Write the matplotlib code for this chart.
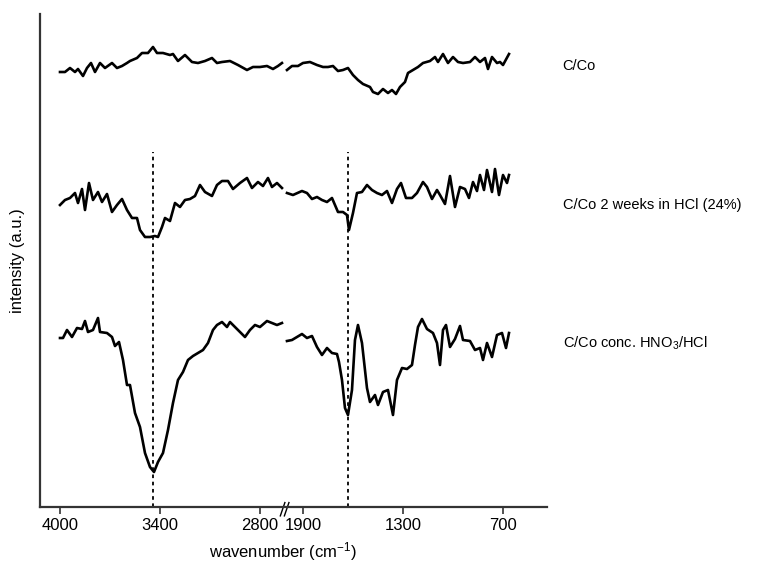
import numpy as np
import matplotlib
matplotlib.use('Agg')
import matplotlib.pyplot as plt

plt.rcParams['font.family'] = ['Liberation Sans', 'DejaVu Sans']
plt.rcParams['mathtext.default'] = 'regular'

# wavenumbers (cm-1) and intensities (a.u., already offset)
# C/Co
wn_a_hi = [4000, 3970, 3940, 3910, 3892, 3862, 3838, 3814, 3790, 3760, 3730, 3688, 3658, 3628,
           3598, 3580, 3538, 3508, 3472, 3442, 3418, 3382, 3340, 3322, 3292, 3250, 3208, 3172,
           3130, 3088, 3058, 3028, 2980, 2932, 2878, 2842, 2800, 2758, 2722, 2692, 2668]
int_a_hi = [435, 435, 439, 435, 438, 431, 439, 444, 435, 444, 439, 444, 439, 441,
            444, 446, 449, 454, 454, 460, 454, 454, 452, 453, 446, 452, 445, 444,
            446, 449, 444, 445, 446, 442, 437, 440, 440, 441, 438, 441, 444]
wn_a_lo = [1996, 1966, 1930, 1900, 1858, 1816, 1780, 1750, 1720, 1690, 1660, 1630, 1600, 1570,
           1540, 1498, 1480, 1450, 1420, 1390, 1366, 1342, 1318, 1288, 1270, 1240, 1210, 1180,
           1138, 1108, 1090, 1060, 1030, 1000, 970, 940, 898, 868, 838, 808, 790, 766, 736,
           718, 700, 664]
int_a_lo = [437, 441, 441, 444, 445, 442, 440, 440, 441, 436, 437, 439, 432, 427,
            423, 420, 415, 413, 418, 414, 417, 413, 420, 425, 434, 437, 440, 444,
            446, 450, 445, 453, 444, 450, 445, 444, 445, 450, 445, 449, 438, 450, 444,
            445, 442, 453]

# C/Co 2 weeks in HCl (24%)
wn_b_hi = [4000, 3970, 3940, 3910, 3892, 3868, 3850, 3826, 3802, 3772, 3748, 3718, 3688, 3658,
           3628, 3598, 3568, 3538, 3520, 3490, 3460, 3430, 3412, 3388, 3370, 3340, 3310, 3280,
           3250, 3220, 3190, 3160, 3130, 3088, 3058, 3028, 2992, 2962, 2920, 2878, 2848, 2812,
           2782, 2752, 2728, 2698, 2668]
int_b_hi = [302, 307, 309, 314, 304, 318, 297, 324, 307, 315, 305, 313, 295, 302,
            308, 297, 289, 289, 277, 270, 270, 271, 270, 280, 289, 286, 304, 300,
            307, 308, 311, 322, 315, 311, 322, 326, 326, 318, 324, 329, 319, 325,
            321, 329, 320, 324, 319]
wn_b_lo = [1996, 1960, 1906, 1876, 1846, 1816, 1786, 1756, 1726, 1708, 1690, 1660, 1636, 1624,
           1600, 1576, 1546, 1516, 1486, 1456, 1426, 1396, 1366, 1336, 1312, 1282, 1246, 1216,
           1180, 1156, 1126, 1096, 1078, 1048, 1018, 988, 958, 928, 904, 880, 856, 838, 814,
           796, 766, 748, 724, 700, 676, 664]
int_b_lo = [314, 312, 316, 314, 308, 310, 307, 305, 309, 302, 295, 295, 292, 277,
            294, 314, 315, 322, 317, 314, 312, 316, 304, 318, 324, 309, 309, 314,
            325, 320, 308, 317, 312, 303, 331, 300, 320, 318, 309, 325, 316, 332, 317,
            337, 315, 338, 312, 332, 324, 332]

# C/Co conc. HNO3/HCl
wn_c_hi = [4000, 3982, 3958, 3928, 3898, 3868, 3850, 3832, 3802, 3772, 3760, 3718, 3688, 3670,
           3646, 3622, 3598, 3580, 3550, 3520, 3490, 3460, 3436, 3412, 3382, 3352, 3322, 3292,
           3262, 3232, 3202, 3172, 3142, 3112, 3082, 3058, 3028, 2998, 2980, 2950, 2920, 2890,
           2860, 2830, 2800, 2758, 2728, 2698, 2668]
int_c_hi = [169, 169, 177, 170, 179, 178, 186, 175, 177, 189, 175, 174, 170, 161,
            165, 147, 122, 122, 94, 80, 54, 40, 35, 45, 54, 77, 104, 127,
            135, 147, 151, 154, 157, 164, 177, 182, 185, 180, 185, 180, 175, 170,
            177, 182, 180, 186, 184, 182, 184]
wn_c_lo = [1996, 1966, 1936, 1906, 1876, 1846, 1816, 1786, 1756, 1726, 1696, 1684, 1666, 1648,
           1630, 1606, 1588, 1570, 1546, 1516, 1498, 1468, 1450, 1420, 1390, 1360, 1336, 1306,
           1276, 1246, 1228, 1210, 1186, 1156, 1120, 1096, 1078, 1060, 1042, 1018, 988, 958,
           940, 898, 868, 838, 820, 796, 766, 736, 706, 682, 664]
int_c_lo = [166, 167, 170, 173, 169, 171, 160, 152, 159, 154, 153, 145, 127, 99,
            92, 117, 167, 182, 164, 119, 105, 112, 102, 115, 117, 92, 127, 139,
            138, 142, 162, 180, 188, 178, 174, 164, 142, 177, 182, 160, 168, 181,
            167, 166, 157, 159, 147, 164, 150, 172, 174, 159, 174]

labels = ['C/Co', 'C/Co 2 weeks in HCl (24%)', 'C/Co conc. HNO$_3$/HCl']
label_y = [441, 302, 164]
marker_wn = [3440, 1630]
ticks = [4000, 3400, 2800, 1900, 1300, 700]

# broken wavenumber axis: 2660..2000 squeezed into a few pixels
knots_wn = [0, 2000, 2660, 5000]
knots_pos = [-559.7, -226.3, -223.3, 166.7]


def fwd(w):
    return np.interp(w, knots_wn, knots_pos)


def inv(p):
    return np.interp(p, knots_pos, knots_wn)


fig = plt.figure(figsize=(7.61, 5.62), dpi=100)
ax = fig.add_axes([40 / 761, 1 - 507 / 562, 507 / 761, 493 / 562])
ax.set_xscale('function', functions=(fwd, inv))
ax.set_xlim(4120, 436)
ax.set_ylim(0, 493)

for wn, inten in [(wn_a_hi, int_a_hi), (wn_a_lo, int_a_lo), (wn_b_hi, int_b_hi),
                  (wn_b_lo, int_b_lo), (wn_c_hi, int_c_hi), (wn_c_lo, int_c_lo)]:
    ax.plot(wn, inten, color='black', lw=1.9, solid_joinstyle='round')

ax.vlines(marker_wn, 0, 355, colors='black', lw=1.3, linestyles=(0, (2, 2)))

for lab, y in zip(labels, label_y):
    ax.text(1.031, y, lab, transform=ax.get_yaxis_transform(), va='center', ha='left',
            fontsize=10.5, clip_on=False)

# axis break marks
for x0 in [0.474, 0.482]:
    ax.plot([x0, x0 + 0.009], [-0.018, 0.009], transform=ax.transAxes, color='black',
            lw=1.0, clip_on=False)

ax.set_xticks(ticks)
ax.set_xticklabels([str(t) for t in ticks])
ax.set_yticks([])
ax.minorticks_off()
ax.tick_params(axis='x', direction='out', length=5, width=1.2, labelsize=12, pad=3,
               color='#333333')
for s in ['top', 'right']:
    ax.spines[s].set_visible(False)
for s in ['left', 'bottom']:
    ax.spines[s].set_linewidth(1.6)
    ax.spines[s].set_color('#333333')

ax.set_xlabel('wavenumber (cm$^{-1}$)', fontsize=12)
ax.xaxis.set_label_coords(0.480, -0.068)
ax.set_ylabel('intensity (a.u.)', fontsize=12)
ax.yaxis.set_label_coords(-0.029, 0.5)

fig.savefig('out.png', dpi=100)
